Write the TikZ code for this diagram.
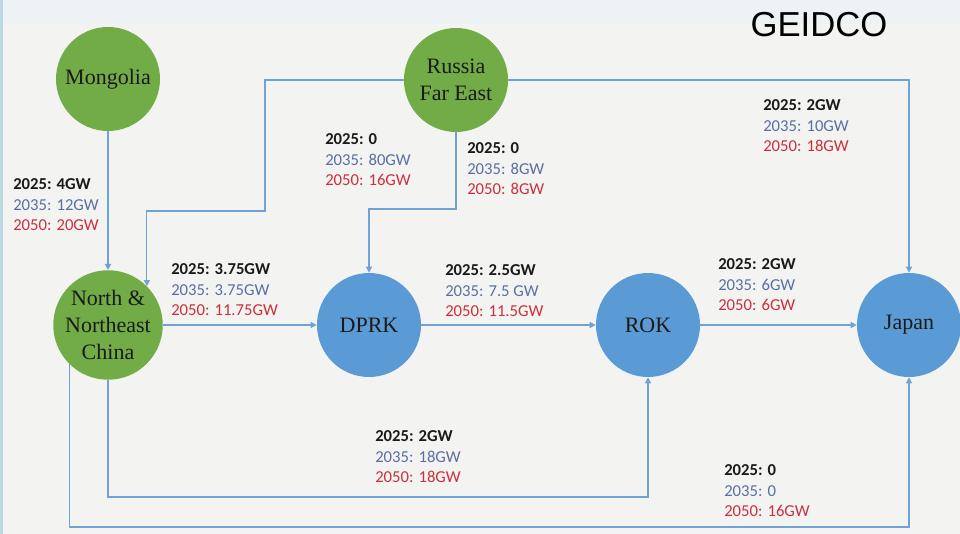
\documentclass[tikz,border=0pt]{standalone}
\usepackage{fontspec}
\setmainfont{Liberation Serif}
\newfontfamily\lblfont{Carlito}
\newfontfamily\logofont{Liberation Sans}
\usetikzlibrary{arrows.meta}
\definecolor{bgc}{HTML}{F3F3F1}
\definecolor{topc}{HTML}{EEF2F5}
\definecolor{stripc}{HTML}{BFD7E3}
\definecolor{greenc}{HTML}{71AC47}
\definecolor{bluec}{HTML}{5B9BD5}
\definecolor{linec}{HTML}{6FA3D6}
\definecolor{cbl}{HTML}{1A1A1A}
\definecolor{c35}{HTML}{5A6FA3}
\definecolor{c50}{HTML}{CB303C}
\tikzset{
  country/.style={circle, inner sep=0pt, minimum size=78pt, text=cbl,
    font=\fontsize{16.5}{19.8}\selectfont, align=center},
  gnode/.style={country, fill=greenc},
  bnode/.style={country, fill=bluec},
  conn/.style={draw=linec, line width=0.9pt, -{Triangle[length=4.5pt,width=4.5pt]}},
  lbl/.style={anchor=west, inner sep=0pt, align=left,
    font=\lblfont\fontsize{12.5}{15.4}\selectfont}
}
\newcommand{\flow}[3]{{\bfseries\color{cbl}#1}\\ \textcolor{c35}{#2}\\ \textcolor{c50}{#3}}
\begin{document}
\begin{tikzpicture}[x=0.75pt,y=-0.75pt]
\useasboundingbox (0,0) rectangle (960,534);
\fill[bgc] (0,0) rectangle (960,534);
\fill[topc] (0,0) rectangle (960,24);
\fill[stripc] (0,0) rectangle (3,534);

\node[font=\logofont\fontsize{26}{30}\selectfont, text=black] (logo) at (819,25) {GEIDCO};

\node[gnode] (mongolia) at (108,79) {Mongolia};
\node[gnode, font=\fontsize{16.5}{20}\selectfont] (russia) at (456,80) {Russia\\Far East};
\node[gnode, font=\fontsize{16.5}{20}\selectfont] (china) at (108,325) {North \&\\Northeast\\China};
\node[bnode] (dprk) at (369,325) {DPRK};
\node[bnode] (rok) at (648,325) {ROK};
\node[bnode] (japan) at (909,325) {Japan};

\coordinate (r1) at (265,211);
\coordinate (r2) at (369,209);
\coordinate (c1) at (648,497);
\coordinate (c2) at (909,527);

\draw[conn] (mongolia.south) -- (china.north);
\draw[conn] (russia.west) -| (r1) -| (china.45);
\draw[conn] (russia.south) |- (r2) -- (dprk.north);
\draw[conn] (russia.east) -| (japan.north);
\draw[conn] (china.east) -- (dprk.west);
\draw[conn] (dprk.east) -- (rok.west);
\draw[conn] (rok.east) -- (japan.west);
\draw[conn] (china.south) |- (c1) -- (rok.south);
\draw[conn] (china.225) |- (c2) -- (japan.south);

\node[lbl] (l1) at (13,205) {\flow{2025: 4GW}{2035: 12GW}{2050: 20GW}};
\node[lbl] (l2) at (325,160) {\flow{2025: 0}{2035: 80GW}{2050: 16GW}};
\node[lbl] (l3) at (467,169) {\flow{2025: 0}{2035: 8GW}{2050: 8GW}};
\node[lbl] (l4) at (763,126) {\flow{2025: 2GW}{2035: 10GW}{2050: 18GW}};
\node[lbl] (l5) at (171,290) {\flow{2025: 3.75GW}{2035: 3.75GW}{2050: 11.75GW}};
\node[lbl] (l6) at (445,291) {\flow{2025: 2.5GW}{2035: 7.5 GW}{2050: 11.5GW}};
\node[lbl] (l7) at (718,285) {\flow{2025: 2GW}{2035: 6GW}{2050: 6GW}};
\node[lbl] (l8) at (375,457) {\flow{2025: 2GW}{2035: 18GW}{2050: 18GW}};
\node[lbl] (l9) at (724,491) {\flow{2025: 0}{2035: 0}{2050: 16GW}};
\end{tikzpicture}
\end{document}
